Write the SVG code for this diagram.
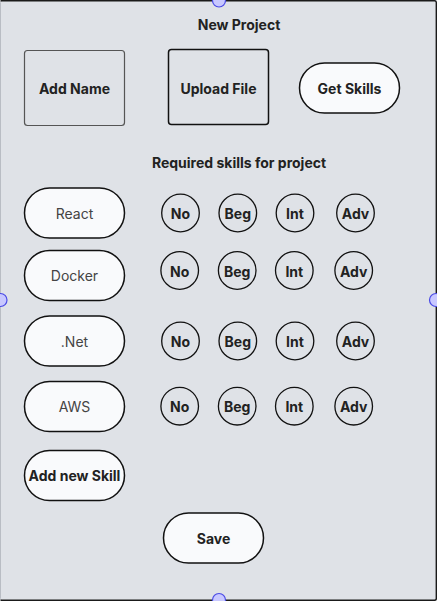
<svg xmlns="http://www.w3.org/2000/svg" width="437" height="601" viewBox="0 0 437 601">
<style>
  .t{font-family:Inter,"Liberation Sans",sans-serif;text-anchor:middle;dominant-baseline:central}
  .b{font-weight:700;fill:#222;font-size:14px}
  .r{font-weight:400;fill:#444;font-size:14px}
  .pill{fill:#f9fafc;stroke:#111;stroke-width:1.5}
  .lvl{fill:none;stroke:#111;stroke-width:1.3}
  .lt{font-weight:700;fill:#222;font-size:14px}
  .h{fill:#c8c8ff;stroke:#4a4ae6;stroke-width:1.2}
</style>
<g id="frame">
  <rect x="0.5" y="0.5" width="436" height="600" rx="2" fill="#dfe2e7" stroke="#b9bdc4" stroke-width="1"/>
  <path d="M0.5 0.8 H434.5 Q436.3 0.8 436.3 2.5 V598.5 Q436.3 600.3 434.5 600.3 H0.5" fill="none" stroke="#1a1a1a" stroke-width="1.4"/>
</g>
<g id="title"><text class="t b" x="239" y="24" font-size="15">New Project</text></g>
<g id="add-name">
  <rect x="24.5" y="50.5" width="100" height="75" rx="3" fill="none" stroke="#555" stroke-width="1.2"/>
  <text class="t b" x="74.5" y="88.5">Add Name</text>
</g>
<g id="upload-file">
  <rect x="168.5" y="49.5" width="100" height="75" rx="3" fill="none" stroke="#111" stroke-width="1.5"/>
  <text class="t b" x="218.5" y="88">Upload File</text>
</g>
<g id="get-skills">
  <rect class="pill" x="299.5" y="63" width="100" height="50" rx="25"/>
  <text class="t b" x="349.5" y="88">Get Skills</text>
</g>
<g id="subtitle"><text class="t b" x="239" y="162.5">Required skills for project</text></g>

<g id="skill-react">
  <rect class="pill" x="24.5" y="188" width="100" height="50" rx="25"/>
  <text class="t r" x="74.5" y="213">React</text>
</g>
<g id="skill-docker">
  <rect class="pill" x="24.5" y="250.5" width="100" height="50" rx="25"/>
  <text class="t r" x="74.5" y="275.5">Docker</text>
</g>
<g id="skill-net">
  <rect class="pill" x="24.5" y="316" width="100" height="50" rx="25"/>
  <text class="t r" x="74.5" y="341">.Net</text>
</g>
<g id="skill-aws">
  <rect class="pill" x="24.5" y="381.5" width="100" height="50" rx="25"/>
  <text class="t r" x="74.5" y="406.5">AWS</text>
</g>
<g id="add-new-skill">
  <rect class="pill" x="24.5" y="450.5" width="100" height="50" rx="25"/>
  <text class="t b" x="74.5" y="475.5">Add new Skill</text>
</g>
<g id="save">
  <rect class="pill" x="163.5" y="513" width="100" height="50" rx="25"/>
  <text class="t b" x="213.5" y="538">Save</text>
</g>

<g id="levels-react">
  <circle class="lvl" cx="180.5" cy="213" r="18.8"/><text class="t lt" x="180.5" y="213.5">No</text>
  <circle class="lvl" cx="237.8" cy="213" r="18.8"/><text class="t lt" x="237.8" y="213.5">Beg</text>
  <circle class="lvl" cx="295" cy="213" r="18.8"/><text class="t lt" x="295" y="213.5">Int</text>
  <circle class="lvl" cx="355.5" cy="213" r="18.8"/><text class="t lt" x="355.5" y="213.5">Adv</text>
</g>
<g id="levels-docker">
  <circle class="lvl" cx="179.7" cy="270.5" r="18.8"/><text class="t lt" x="179.7" y="271">No</text>
  <circle class="lvl" cx="237.2" cy="270.5" r="18.8"/><text class="t lt" x="237.2" y="271">Beg</text>
  <circle class="lvl" cx="294.3" cy="270.5" r="18.8"/><text class="t lt" x="294.3" y="271">Int</text>
  <circle class="lvl" cx="353.7" cy="270.5" r="18.8"/><text class="t lt" x="353.7" y="271">Adv</text>
</g>
<g id="levels-net">
  <circle class="lvl" cx="180.5" cy="341" r="18.8"/><text class="t lt" x="180.5" y="341.5">No</text>
  <circle class="lvl" cx="237.8" cy="341" r="18.8"/><text class="t lt" x="237.8" y="341.5">Beg</text>
  <circle class="lvl" cx="295" cy="341" r="18.8"/><text class="t lt" x="295" y="341.5">Int</text>
  <circle class="lvl" cx="355.5" cy="341" r="18.8"/><text class="t lt" x="355.5" y="341.5">Adv</text>
</g>
<g id="levels-aws">
  <circle class="lvl" cx="179.7" cy="406.2" r="18.8"/><text class="t lt" x="179.7" y="406.7">No</text>
  <circle class="lvl" cx="237.2" cy="406.2" r="18.8"/><text class="t lt" x="237.2" y="406.7">Beg</text>
  <circle class="lvl" cx="294.3" cy="406.2" r="18.8"/><text class="t lt" x="294.3" y="406.7">Int</text>
  <circle class="lvl" cx="353.7" cy="406.2" r="18.8"/><text class="t lt" x="353.7" y="406.7">Adv</text>
</g>
<g id="connectors"></g>
<g id="handles">
  <circle class="h" cx="219" cy="0.5" r="6.5"/>
  <circle class="h" cx="0.5" cy="300" r="6.5"/>
  <circle class="h" cx="436" cy="300" r="6.5"/>
  <circle class="h" cx="219" cy="600" r="6.5"/>
</g>
</svg>
